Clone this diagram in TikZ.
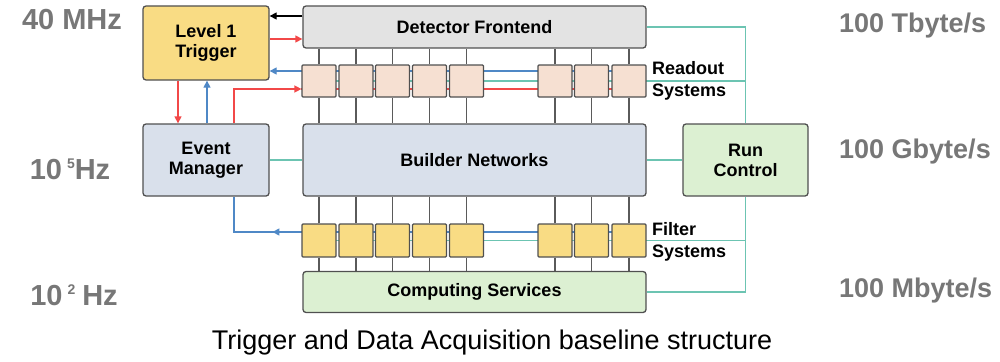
\documentclass[tikz,border=0pt]{standalone}
\usepackage{fontspec}
\setmainfont{Liberation Sans}
\usetikzlibrary{arrows.meta}
\definecolor{cyel}{HTML}{F9DC84}
\definecolor{cgray}{HTML}{E3E3E3}
\definecolor{cblue}{HTML}{D9E0EB}
\definecolor{cgreen}{HTML}{DCF0D2}
\definecolor{cpeach}{HTML}{F6E0D2}
\definecolor{cborder}{HTML}{505050}
\definecolor{cteal}{HTML}{6CC4B2}
\definecolor{cred}{HTML}{F24848}
\definecolor{cbl}{HTML}{4F88C6}
\definecolor{clab}{HTML}{777777}
\definecolor{cvl}{HTML}{5A5A5A}
\pgfdeclarelayer{bg}\pgfsetlayers{bg,main}
\newcommand\mysupx[1]{\raisebox{11pt}{\fontsize{14}{14}\selectfont #1}}
\begin{document}
\begin{tikzpicture}[x=1pt,y=-1pt,
  box/.style={draw=cborder,line width=1.3pt,rounded corners=3pt,inner sep=0pt,
    font=\fontsize{18}{20}\selectfont\bfseries,align=center},
  cell/.style={draw=cborder,line width=1.2pt,rounded corners=1pt,
    minimum width=34pt,inner sep=0pt},
  rcell/.style={cell,fill=cpeach,minimum height=32pt},
  fcell/.style={cell,fill=cyel,minimum height=33pt},
  vline/.style={draw=cvl,line width=1.3pt},
  tline/.style={draw=cteal,line width=1.4pt},
  redl/.style={draw=cred,line width=1.3pt},
  bluel/.style={draw=cbl,line width=1.3pt},
  blkl/.style={draw=black,line width=1.2pt},
  tip/.style={-{Triangle[length=7pt,width=7pt]}},
  lab/.style={text=clab,font=\fontsize{29}{32}\selectfont\bfseries,inner sep=0pt},
  rlab/.style={text=clab,font=\fontsize{27}{30}\selectfont\bfseries,inner sep=0pt,anchor=west},
  side/.style={anchor=west,align=left,inner sep=0pt,font=\fontsize{18}{22}\selectfont\bfseries}
]
\useasboundingbox (0,0) rectangle (1000,361);

% main boxes
\node[box,fill=cyel,minimum width=126pt,minimum height=74pt] (l1) at (206,43) {Level 1\\Trigger};
\node[box,fill=cgray,minimum width=343pt,minimum height=42pt] (fe) at (474.5,27) {Detector Frontend};
\node[box,fill=cblue,minimum width=126pt,minimum height=72pt] (em) at (206,160) {Event\\Manager};
\node[box,fill=cblue,minimum width=343pt,minimum height=72pt] (bn) at (474.5,160) {Builder Networks};
\node[box,fill=cgreen,minimum width=125pt,minimum height=72pt] (rc) at (745.5,160) {Run\\Control};
\node[box,fill=cgreen,minimum width=343pt,minimum height=41pt] (cs) at (474.5,292) {Computing Services};

% cells
\foreach \i/\x in {1/319,2/356,3/392.5,4/429.5,5/466.5,6/555,7/591.5,8/629}{
  \node[rcell] (r\i) at (\x,81) {};
  \node[fcell] (f\i) at (\x,240.5) {};
}

\node[side] (rotxt) at (652,81) {Readout\\Systems};
\node[side] (fitxt) at (652,242) {Filter\\Systems};

\begin{pgfonlayer}{bg}
  \foreach \i in {1,...,8}{
    \draw[vline] (r\i.north) -- (r\i.north |- fe.south);
    \draw[vline] (r\i.south) -- (r\i.south |- bn.north);
    \draw[vline] (f\i.north) -- (f\i.north |- bn.south);
    \draw[vline] (f\i.south) -- (f\i.south |- cs.north);
  }
  % readout bus lines
  \draw[bluel,tip] ([yshift=10pt]r8.center) -- ([yshift=10pt]r1.west -| l1.east);
  \draw[tline] (r1.center) -- (r1.center -| rc.north);
  \draw[redl] ([yshift=-8pt]r8.center) -- ([yshift=-8pt]r1.west);
  % filter bus lines
  \draw[bluel] ([yshift=8.5pt]f8.center) -- ([yshift=8.5pt]f1.west) -| ([xshift=28pt]em.south);
  \draw[tline] (f1.center) -- (f1.center -| rc.south);
\end{pgfonlayer}

% arrows between trigger, frontend, event manager
\draw[blkl,tip] ([yshift=11pt]fe.west) -- ([yshift=11pt]fe.west -| l1.east);
\draw[redl,tip] ([yshift=4pt]l1.east) -- ([yshift=4pt]l1.east -| fe.west);
\draw[redl,tip] ([xshift=-28pt]l1.south) -- ([xshift=-28pt]em.north);
\draw[bluel,tip] ([xshift=1pt]em.north) -- ([xshift=1pt]l1.south);
\draw[redl,tip] ([xshift=28pt]em.north) |- ([yshift=-8pt]r1.west);
\draw[bluel,tip] ([yshift=8.5pt]f1.west) -- ++(-29pt,0pt);

% teal control lines
\draw[tline] (em.east) -- (bn.west);
\draw[tline] (bn.east) -- (rc.west);
\draw[tline] (fe.east) -| (rc.north);
\draw[tline] (rc.south) |- (cs.east);

% rate labels
\node[lab] (hz40) at (72,20) {40 MHz};
\node[lab] (hz5) at (70,169) {10\kern5pt\mysupx{5}Hz};
\node[lab] (hz2) at (74,295) {10\kern5pt\mysupx{2}\kern7pt Hz};
\node[rlab] (tb) at (839,26) {100 Tbyte/s};
\node[rlab] (gb) at (839,152) {100 Gbyte/s};
\node[rlab] (mb) at (839,291) {100 Mbyte/s};

\node[inner sep=0pt,font=\fontsize{27}{29}\selectfont] (cap) at (492,343) {Trigger and Data Acquisition baseline structure};
\end{tikzpicture}
\end{document}
